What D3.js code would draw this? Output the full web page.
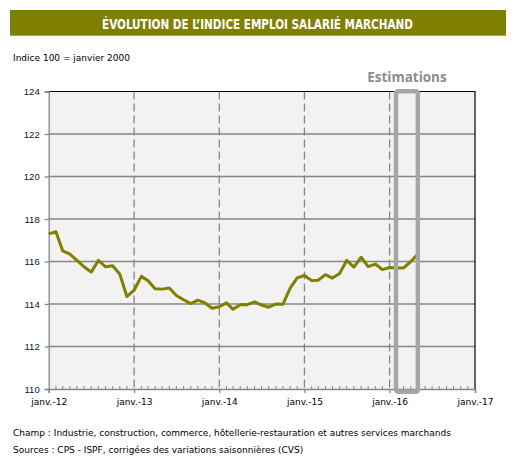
<!DOCTYPE html>
<html>
<head>
<meta charset="utf-8">
<script src="https://cdn.jsdelivr.net/npm/d3@7"></script>
<style>
  html, body { margin: 0; padding: 0; background: #fff; }
  svg { display: block; }
</style>
</head>
<body>
<script>
// ---- data ----
const months = d3.range(53).map(i => new Date(2012, i, 1)); // janv. 2012 -> mai 2016
const values = [
  117.3, 117.4, 116.5, 116.35, 116.05, 115.75, 115.5, 116.05, 115.75, 115.8, 115.4, 114.35,
  114.65, 115.3, 115.1, 114.72, 114.7, 114.75, 114.4, 114.2, 114.02, 114.18, 114.05, 113.8,
  113.87, 114.05, 113.75, 113.97, 113.97, 114.1, 113.95, 113.85, 114.0, 113.99, 114.75, 115.23,
  115.34, 115.1, 115.12, 115.38, 115.22, 115.44, 116.05, 115.74, 116.2, 115.76, 115.88, 115.62,
  115.72, 115.7, 115.7, 116.0, 116.35
];
const yTicks = [110, 112, 114, 116, 118, 120, 122, 124];
const xTickYears = [2012, 2013, 2014, 2015, 2016, 2017];
const xTickLabels = ["janv.-12", "janv.-13", "janv.-14", "janv.-15", "janv.-16", "janv.-17"];
const estimationRange = [new Date(2016, 1, 1), new Date(2016, 4, 1)];
const title = "ÉVOLUTION DE L’INDICE EMPLOI SALARIÉ MARCHAND";
const unitLabel = "Indice 100 = janvier 2000";
const estLabel = "Estimations";
const notes = [
  "Champ : Industrie, construction, commerce, hôtellerie-restauration et autres services marchands",
  "Sources : CPS - ISPF, corrigées des variations saisonnières (CVS)"
];

// ---- layout ----
const W = 521, H = 471;
const L = 48.7, R = 475, T = 91.5, B = 389;

const svg = d3.select("body").append("svg").attr("width", W).attr("height", H);

// title banner
svg.append("rect").attr("x", 10).attr("y", 10).attr("width", 496).attr("height", 25.7).attr("fill", "#808000");
svg.append("text").attr("x", 257.5).attr("y", 28.5).attr("text-anchor", "middle")
  .attr("font-family", "DejaVu Sans Condensed, DejaVu Sans").attr("font-weight", "bold")
  .attr("font-size", 14.5).attr("fill", "#fff")
  .attr("textLength", 311).attr("lengthAdjust", "spacingAndGlyphs").text(title);

svg.append("text").attr("x", 13).attr("y", 61)
  .attr("font-family", "DejaVu Sans").attr("font-size", 9).attr("fill", "#000").text(unitLabel);

const x = d3.scaleTime().domain([new Date(2012, 0, 1), new Date(2017, 0, 1)]).range([L, R]);
const y = d3.scaleLinear().domain([110, 124]).range([B, T]);

// plot background
svg.append("rect").attr("x", L).attr("y", T).attr("width", R - L).attr("height", B - T).attr("fill", "#f2f2f2");

// horizontal gridlines
svg.append("g").selectAll("line").data(yTicks.filter(v => v > 110 && v < 124)).join("line")
  .attr("x1", L).attr("x2", R).attr("y1", d => y(d)).attr("y2", d => y(d))
  .attr("stroke", "#868686").attr("stroke-width", 1.3);

// vertical dashed gridlines
svg.append("g").selectAll("line").data(xTickYears.slice(1, -1)).join("line")
  .attr("x1", d => x(new Date(d, 0, 1))).attr("x2", d => x(new Date(d, 0, 1)))
  .attr("y1", T).attr("y2", B)
  .attr("stroke", "#868686").attr("stroke-width", 1.3).attr("stroke-dasharray", "8,4");

// top and right border (black)
svg.append("path").attr("d", `M${L},${T}H${R}V${B}`).attr("fill", "none").attr("stroke", "#000").attr("stroke-width", 1.2);

// x axis
const xAxis = d3.axisBottom(x)
  .tickValues(xTickYears.map(yr => new Date(yr, 0, 1)))
  .tickFormat((d, i) => xTickLabels[i]).tickSize(4).tickPadding(6);
const gx = svg.append("g").attr("transform", `translate(0,${B})`).call(xAxis);
gx.select(".domain").attr("stroke", "#868686").attr("stroke-width", 1.3);
gx.selectAll(".tick line").attr("stroke", "#868686").attr("stroke-width", 1.3);
gx.selectAll(".tick text").attr("font-family", "DejaVu Sans").attr("font-size", 9).attr("fill", "#000");

// minor monthly ticks (inside)
const minor = d3.timeMonth.range(new Date(2012, 0, 1), new Date(2017, 0, 1)).filter(d => d.getMonth() !== 0);
svg.append("g").selectAll("line").data(minor).join("line")
  .attr("x1", d => x(d)).attr("x2", d => x(d)).attr("y1", B).attr("y2", B - 3)
  .attr("stroke", "#868686").attr("stroke-width", 1);

// y axis
const yAxis = d3.axisLeft(y).tickValues(yTicks).tickFormat(d3.format("d")).tickSize(4).tickPadding(5);
const gy = svg.append("g").attr("transform", `translate(${L},0)`).call(yAxis);
gy.select(".domain").attr("stroke", "#868686").attr("stroke-width", 1.3);
gy.selectAll(".tick line").attr("stroke", "#868686").attr("stroke-width", 1.3);
gy.selectAll(".tick text").attr("font-family", "Liberation Sans, Arial").attr("font-size", 9.5).attr("fill", "#101030");

// data line
const line = d3.line().x((d, i) => x(months[i])).y(d => y(d));
svg.append("path").datum(values).attr("d", line)
  .attr("fill", "none").attr("stroke", "#808000").attr("stroke-width", 3).attr("stroke-linejoin", "round");

// estimation box
const ex0 = x(estimationRange[0]) - 0.8, ex1 = x(estimationRange[1]);
svg.append("rect").attr("x", ex0).attr("y", T - 0.2).attr("width", ex1 - ex0).attr("height", 392 - T)
  .attr("rx", 2).attr("fill", "none").attr("stroke", "#a6a6a6").attr("stroke-width", 4.4);
svg.append("text").attr("x", (ex0 + ex1) / 2).attr("y", 82).attr("text-anchor", "middle")
  .attr("font-family", "Open Sans").attr("font-weight", "bold").attr("font-size", 13.5)
  .attr("fill", "#8c8c8c").text(estLabel);

// notes
svg.append("g").selectAll("text").data(notes).join("text")
  .attr("x", 13).attr("y", (d, i) => 436 + i * 17)
  .attr("font-family", "DejaVu Sans").attr("font-size", 9).attr("fill", "#000").text(d => d);
</script>
</body>
</html>
